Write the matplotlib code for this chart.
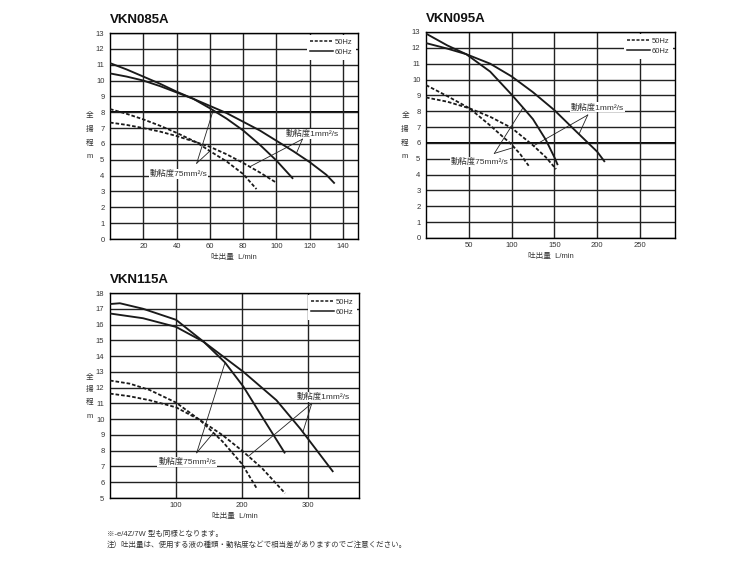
import numpy as np
import matplotlib
matplotlib.use('Agg')
import matplotlib.pyplot as plt
from matplotlib.lines import Line2D

plt.rcParams['font.family'] = ['Liberation Sans', 'Noto Sans CJK JP', 'DejaVu Sans']

# VKN085A
q085_75_60 = [0, 10, 20, 30, 40, 50, 60, 70, 80, 90, 100, 110]
h085_75_60 = [11.1, 10.7, 10.25, 9.8, 9.3, 8.85, 8.25, 7.6, 6.85, 5.95, 4.95, 3.8]
q085_1_60 = [0, 10, 20, 30, 40, 50, 60, 70, 80, 90, 100, 110, 120, 130, 135]
h085_1_60 = [10.45, 10.25, 10.0, 9.65, 9.25, 8.85, 8.4, 7.95, 7.4, 6.85, 6.2, 5.55, 4.85, 4.05, 3.5]
q085_75_50 = [0, 10, 20, 30, 40, 52, 60, 70, 80, 88]
h085_75_50 = [8.2, 7.9, 7.55, 7.15, 6.7, 6.1, 5.55, 4.9, 4.1, 3.15]
q085_1_50 = [0, 10, 20, 30, 40, 52, 60, 70, 80, 90, 100]
h085_1_50 = [7.35, 7.2, 7.0, 6.78, 6.5, 6.1, 5.82, 5.35, 4.8, 4.2, 3.55]

# VKN095A
q095_75_60 = [0, 10, 25, 47, 75, 100, 113, 125, 140, 150, 154]
h095_75_60 = [12.9, 12.6, 12.15, 11.6, 10.5, 9.05, 8.25, 7.5, 6.2, 5.1, 4.6]
q095_1_60 = [0, 25, 47, 75, 100, 125, 150, 175, 200, 209]
h095_1_60 = [12.3, 11.95, 11.6, 11.0, 10.2, 9.2, 8.07, 6.75, 5.45, 4.8]
q095_75_50 = [0, 25, 51, 75, 100, 110, 120]
h095_75_50 = [9.65, 8.95, 8.18, 7.1, 5.9, 5.3, 4.56]
q095_1_50 = [0, 25, 51, 75, 100, 125, 140, 152]
h095_1_50 = [8.87, 8.6, 8.18, 7.65, 6.95, 5.85, 5.1, 4.35]

# VKN115A
q115_1_60 = [0, 15, 50, 100, 142, 172, 202, 252, 288, 338]
h115_1_60 = [17.3, 17.35, 17.0, 16.3, 14.9, 13.95, 13.0, 11.2, 9.4, 6.65]
q115_75_60 = [0, 50, 100, 142, 174, 202, 237, 265]
h115_75_60 = [16.7, 16.4, 15.85, 14.9, 13.6, 12.06, 9.7, 7.83]
q115_75_50 = [0, 30, 60, 100, 136, 170, 200, 222]
h115_75_50 = [12.45, 12.25, 11.85, 11.05, 9.95, 8.6, 7.15, 5.62]
q115_1_50 = [0, 30, 60, 100, 136, 170, 200, 230, 265]
h115_1_50 = [11.62, 11.45, 11.2, 10.75, 9.95, 9.0, 8.0, 6.9, 5.3]

label_75 = '動粘度75mm²/s'
label_1 = '動粘度1mm²/s'
ylab_chars = ['全', '揚', '程', 'm']
xlab = '吐出量  L/min'
notes = ['※-e/4Z/7W 型も同様となります。',
         '注）吐出量は、使用する液の種類・動粘度などで相当差がありますのでご注意ください。']

DASH = (0, (2.0, 1.1))
INK = '#1a1a1a'


def setup(ax, title, xlim, xticks, ylim, thick_y):
    ax.set_xlim(*xlim)
    ax.set_ylim(*ylim)
    ax.set_xticks(xticks)
    ax.set_yticks(np.arange(ylim[0], ylim[1] + 1))
    ax.grid(True, color='#222', lw=1.0)
    if thick_y is not None:
        ax.axhline(thick_y, color='black', lw=1.4, zorder=1.5)
    ax.tick_params(length=0, labelsize=5.5, labelcolor='#333', pad=3)
    ax.tick_params(axis='y', pad=4)
    for s in ax.spines.values():
        s.set_color('black')
        s.set_linewidth(1.0)
    ax.text(0.0, 1.035, title, transform=ax.transAxes, fontsize=9.5,
            fontweight='bold', ha='left', va='bottom', color='#111')
    hs = [Line2D([], [], color=INK, lw=1.1, ls=DASH),
          Line2D([], [], color=INK, lw=1.1)]
    leg = ax.legend(hs, ['50Hz', '60Hz'], loc='upper right', fontsize=5.5,
                    frameon=True, facecolor='white', edgecolor='none', framealpha=1,
                    fancybox=False, handlelength=3.0, handletextpad=0.2,
                    labelspacing=0.35, borderpad=0.45, borderaxespad=0.3)
    for t in leg.get_texts():
        t.set_color('#333')


def curves(ax, solid, dashed):
    for q, h in solid:
        ax.plot(q, h, color=INK, lw=1.35, solid_capstyle='butt', zorder=3)
    for q, h in dashed:
        ax.plot(q, h, color=INK, lw=1.3, ls=DASH, zorder=3)


def pointer(ax, text, tpos, apex, targets):
    ax.text(tpos[0], tpos[1], text, fontsize=6, color='#333', ha='center', va='center',
            zorder=4, bbox=dict(fc='white', ec='none', pad=0.6))
    for x, (q, h) in targets:
        y = np.interp(x, q, h)
        ax.plot([apex[0], x], [apex[1], y], color='#222', lw=0.6, zorder=4)


def ylabel(fig, x, ys):
    for ch, y in zip(ylab_chars, ys):
        fig.text(x / 750, 1 - y / 570, ch, fontsize=5.5, color='#333', ha='center', va='center')


fig = plt.figure(figsize=(7.5, 5.7), dpi=100)

ax1 = fig.add_axes([110 / 750, 1 - 239 / 570, 248 / 750, 206 / 570])
setup(ax1, 'VKN085A', (0, 149), np.arange(20, 141, 20), (0, 13), 8)
curves(ax1, [(q085_75_60, h085_75_60), (q085_1_60, h085_1_60)],
       [(q085_75_50, h085_75_50), (q085_1_50, h085_1_50)])
pointer(ax1, label_75, (41, 4.1), (52.1, 4.78),
        [(62, (q085_75_60, h085_75_60)), (60, (q085_75_50, h085_75_50))])
pointer(ax1, label_1, (121.7, 6.62), (115.6, 6.3),
        [(84, (q085_1_50, h085_1_50)), (112, (q085_1_60, h085_1_60))])
ax1.set_xlabel(xlab, fontsize=5.5, color='#333', labelpad=3)
ylabel(fig, 90, [115, 130, 143, 157])

ax2 = fig.add_axes([426 / 750, 1 - 238 / 570, 249 / 750, 206 / 570])
setup(ax2, 'VKN095A', (0, 291), np.arange(50, 251, 50), (0, 13), 6)
curves(ax2, [(q095_75_60, h095_75_60), (q095_1_60, h095_1_60)],
       [(q095_75_50, h095_75_50), (q095_1_50, h095_1_50)])
pointer(ax2, label_75, (63, 4.8), (79.9, 5.34),
        [(113.4, (q095_75_60, h095_75_60)), (103, (q095_75_50, h095_75_50))])
pointer(ax2, label_1, (200, 8.25), (189, 7.76),
        [(125.7, (q095_1_50, h095_1_50)), (178.8, (q095_1_60, h095_1_60))])
ax2.set_xlabel(xlab, fontsize=5.5, color='#333', labelpad=3)
ylabel(fig, 405, [115, 130, 143, 157])

ax3 = fig.add_axes([110 / 750, 1 - 498 / 570, 249 / 750, 205 / 570])
setup(ax3, 'VKN115A', (0, 377), np.arange(100, 301, 100), (5, 18), None)
curves(ax3, [(q115_75_60, h115_75_60), (q115_1_60, h115_1_60)],
       [(q115_75_50, h115_75_50), (q115_1_50, h115_1_50)])
pointer(ax3, label_75, (116.7, 7.28), (131.3, 7.87),
        [(174.2, (q115_75_60, h115_75_60)), (156.6, (q115_75_50, h115_75_50))])
pointer(ax3, label_1, (322.7, 11.42), (305.5, 11.0),
        [(209.6, (q115_1_50, h115_1_50)), (292, (q115_1_60, h115_1_60))])
ax3.set_xlabel(xlab, fontsize=5.5, color='#333', labelpad=3)
ylabel(fig, 90, [377, 389, 402, 417])

for i, line in enumerate(notes):
    fig.text(107 / 750, 1 - (534 + 11 * i) / 570, line, fontsize=5.4, color='#333',
             ha='left', va='center')

fig.savefig('out.png', dpi=100, facecolor='white')
